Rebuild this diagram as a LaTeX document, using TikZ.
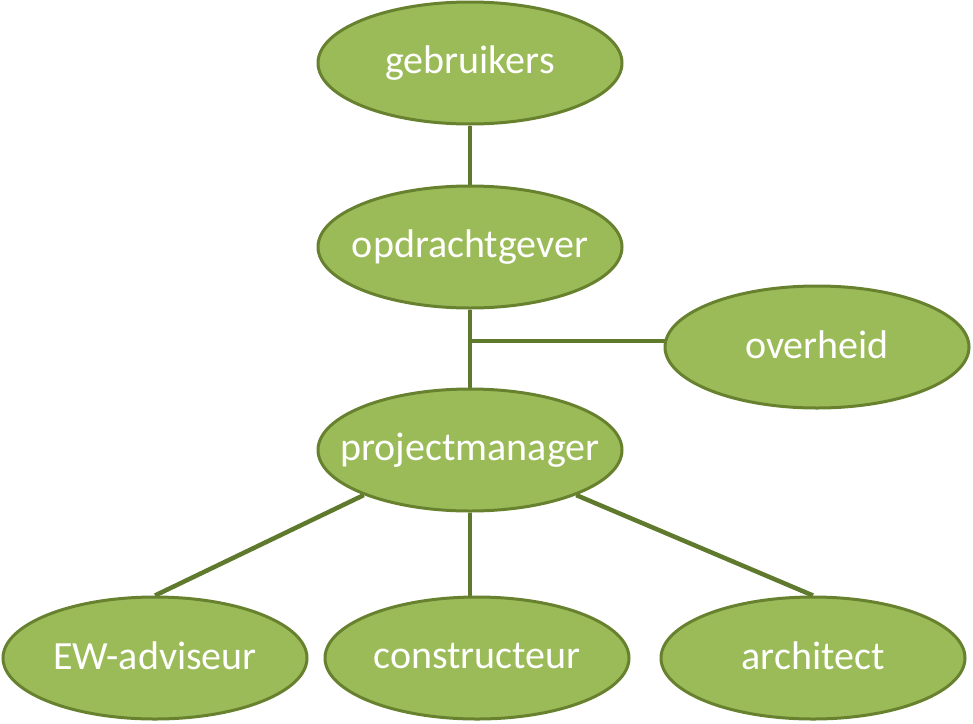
\documentclass[tikz,border=0pt]{standalone}
\usepackage{fontspec}
\setmainfont{Carlito}
\usetikzlibrary{shapes.geometric,backgrounds}
\definecolor{olivefill}{HTML}{9BBB59}
\definecolor{olivedraw}{HTML}{67812F}
\definecolor{oliveline}{HTML}{5F7A2C}
\newcommand{\rolelabel}[1]{\makebox[0pt][c]{\raisebox{5pt}{#1}}}
\tikzset{
  role/.style={ellipse, draw=olivedraw, line width=3pt, fill=olivefill,
    minimum width=304pt, minimum height=122pt, inner sep=0pt,
    text=white, font=\fontsize{40}{48}\selectfont},
  link/.style={draw=oliveline, line width=4.5pt}
}
\begin{document}
\begin{tikzpicture}[x=1pt,y=-1pt]
\useasboundingbox (0,0) rectangle (973,723);
\node[role] (geb) at (470,63) {\rolelabel{gebruikers}};
\node[role] (opd) at (470,247) {\rolelabel{opdrachtgever}};
\node[role] (ove) at (817,347) {\rolelabel{overheid}};
\node[role] (pm) at (470,450) {\rolelabel{projectmanager}};
\node[role] (ew) at (155,658) {\rolelabel{EW-adviseur}};
\node[role] (con) at (477,658) {\rolelabel{constructeur}};
\node[role] (arc) at (813,658) {\rolelabel{architect}};
\coordinate (j) at (470,341);
\begin{scope}[on background layer]
\draw[link] (geb) -- (opd);
\draw[link] (opd) -- (pm);
\draw[link] (j) -- (j -| ove.center);
\draw[link] (pm.203) -- (ew.north);
\draw[link] (pm.south) -- (pm.south |- con.north);
\draw[link] (pm.337) -- (arc.north);
\end{scope}
\end{tikzpicture}
\end{document}
